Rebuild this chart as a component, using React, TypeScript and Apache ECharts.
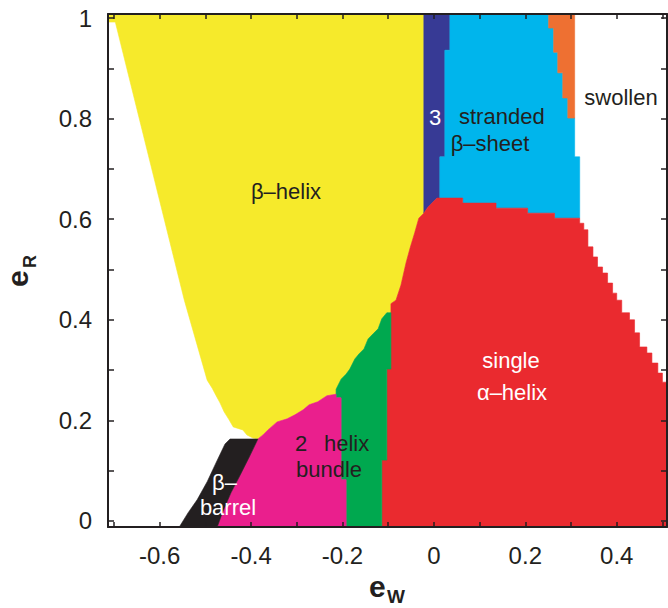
import React, { useEffect, useRef } from 'react';
import * as echarts from 'echarts';

// ---- axis ranges & ticks ----
const X_MIN = -0.713;
const X_MAX = 0.51;
const Y_MIN = -0.012;
const Y_MAX = 1.008;
const xTickValues = [-0.7, -0.6, -0.5, -0.4, -0.3, -0.2, -0.1, 0, 0.1, 0.2, 0.3, 0.4, 0.5];
const xLabelValues = [-0.6, -0.4, -0.2, 0, 0.2, 0.4];
const yTickValues = [0, 0.1, 0.2, 0.3, 0.4, 0.5, 0.6, 0.7, 0.8, 0.9, 1];
const yLabelValues = [0, 0.2, 0.4, 0.6, 0.8, 1];

// ---- phase regions (e_W, e_R) boundary vertices ----
const betaHelix: number[][] = [
  [-0.713, 1.008], [-0.022, 1.008], [-0.022, 0.612], [-0.033, 0.602], [-0.042, 0.573],
  [-0.052, 0.543], [-0.061, 0.513], [-0.072, 0.469], [-0.083, 0.439], [-0.094, 0.432],
  [-0.094, 0.414], [-0.103, 0.414], [-0.114, 0.402], [-0.122, 0.382], [-0.133, 0.372],
  [-0.144, 0.362], [-0.153, 0.342], [-0.164, 0.332], [-0.173, 0.322], [-0.184, 0.302],
  [-0.192, 0.292], [-0.203, 0.282], [-0.214, 0.262], [-0.214, 0.252], [-0.234, 0.249],
  [-0.254, 0.237], [-0.273, 0.231], [-0.286, 0.221], [-0.304, 0.211], [-0.321, 0.203],
  [-0.343, 0.197], [-0.363, 0.181], [-0.374, 0.171], [-0.385, 0.163], [-0.396, 0.165],
  [-0.409, 0.171], [-0.418, 0.181], [-0.439, 0.187], [-0.448, 0.201], [-0.459, 0.217],
  [-0.468, 0.235], [-0.477, 0.250], [-0.485, 0.264], [-0.496, 0.280], [-0.546, 0.439],
  [-0.697, 0.992], [-0.713, 0.992],
];
const threeStrandedDark: number[][] = [
  [-0.022, 1.008], [0.035, 1.008], [0.035, 0.936], [0.024, 0.936], [0.024, 0.724],
  [0.013, 0.724], [0.013, 0.642], [0.007, 0.642], [-0.002, 0.634], [-0.013, 0.624],
  [-0.022, 0.612],
];
const threeStrandedSheet: number[][] = [
  [0.035, 1.008], [0.251, 1.008], [0.251, 0.980], [0.262, 0.980], [0.262, 0.932],
  [0.271, 0.932], [0.271, 0.891], [0.282, 0.891], [0.282, 0.841], [0.293, 0.841],
  [0.293, 0.801], [0.308, 0.801], [0.308, 0.724], [0.319, 0.724], [0.319, 0.602],
  [0.264, 0.602], [0.264, 0.612], [0.205, 0.612], [0.205, 0.622], [0.136, 0.622],
  [0.136, 0.632], [0.063, 0.632], [0.063, 0.642], [0.013, 0.642], [0.013, 0.724],
  [0.024, 0.724], [0.024, 0.936], [0.035, 0.936],
];
const orangeSliver: number[][] = [
  [0.251, 1.008], [0.308, 1.008], [0.308, 0.801], [0.293, 0.801], [0.293, 0.841],
  [0.282, 0.841], [0.282, 0.891], [0.271, 0.891], [0.271, 0.932], [0.262, 0.932],
  [0.262, 0.980], [0.251, 0.980],
];
const singleAlphaHelix: number[][] = [
  [-0.022, 0.612], [-0.013, 0.624], [-0.002, 0.634], [0.007, 0.642], [0.063, 0.642],
  [0.063, 0.632], [0.136, 0.632], [0.136, 0.622], [0.205, 0.622], [0.205, 0.612],
  [0.264, 0.612], [0.264, 0.602], [0.319, 0.602], [0.319, 0.592], [0.328, 0.592],
  [0.328, 0.579], [0.337, 0.579], [0.337, 0.545], [0.348, 0.545], [0.348, 0.525],
  [0.358, 0.525], [0.358, 0.505], [0.369, 0.505], [0.369, 0.493], [0.380, 0.493],
  [0.380, 0.473], [0.391, 0.473], [0.391, 0.453], [0.400, 0.453], [0.400, 0.439],
  [0.411, 0.439], [0.411, 0.414], [0.428, 0.414], [0.428, 0.400], [0.439, 0.400],
  [0.439, 0.374], [0.450, 0.374], [0.450, 0.346], [0.466, 0.346], [0.466, 0.334],
  [0.477, 0.334], [0.477, 0.314], [0.490, 0.314], [0.490, 0.294], [0.500, 0.294],
  [0.500, 0.276], [0.510, 0.276],
  [0.510, -0.012], [-0.114, -0.012], [-0.114, 0.121], [-0.103, 0.121], [-0.103, 0.302],
  [-0.094, 0.302], [-0.094, 0.432], [-0.083, 0.439], [-0.072, 0.469], [-0.061, 0.513],
  [-0.052, 0.543], [-0.042, 0.573], [-0.033, 0.602],
];
const greenRegion: number[][] = [
  [-0.094, 0.414], [-0.094, 0.302], [-0.103, 0.302], [-0.103, 0.121], [-0.114, 0.121],
  [-0.114, -0.012], [-0.192, -0.012], [-0.192, 0.082], [-0.203, 0.082], [-0.203, 0.245],
  [-0.214, 0.245], [-0.214, 0.262], [-0.203, 0.282], [-0.192, 0.292], [-0.184, 0.302],
  [-0.173, 0.322], [-0.164, 0.332], [-0.153, 0.342], [-0.144, 0.362], [-0.133, 0.372],
  [-0.122, 0.382], [-0.114, 0.402], [-0.103, 0.414],
];
const twoHelixBundle: number[][] = [
  [-0.385, 0.163], [-0.374, 0.171], [-0.363, 0.181], [-0.343, 0.197], [-0.321, 0.203],
  [-0.304, 0.211], [-0.286, 0.221], [-0.273, 0.231], [-0.254, 0.237], [-0.234, 0.249],
  [-0.214, 0.252], [-0.214, 0.245], [-0.203, 0.245], [-0.203, 0.082], [-0.192, 0.082],
  [-0.192, -0.012], [-0.474, -0.012], [-0.463, 0.016], [-0.444, 0.056], [-0.424, 0.091],
  [-0.404, 0.127],
];
const betaBarrel: number[][] = [
  [-0.557, -0.012], [-0.538, 0.016], [-0.518, 0.042], [-0.496, 0.078], [-0.477, 0.115],
  [-0.457, 0.153], [-0.446, 0.163], [-0.385, 0.163], [-0.404, 0.127], [-0.424, 0.091],
  [-0.444, 0.056], [-0.463, 0.016], [-0.474, -0.012],
];

const regionPolygons = [betaHelix, threeStrandedDark, threeStrandedSheet, orangeSliver,
  singleAlphaHelix, greenRegion, twoHelixBundle, betaBarrel];
const regionColors = ['#f6ea2b', '#373a95', '#00b5ec', '#ee7032', '#ea2a2f', '#00a84f', '#ea1f8d', '#231f20'];

const FONT = 'Liberation Sans';
const DARK = '#231f20';

// region labels: text, pixel x, pixel y, colour, align
const regionLabels: [string, number, number, string, string][] = [
  ['β–helix', 286, 191, DARK, 'center'],
  ['3', 429, 117, '#ffffff', 'left'],
  ['stranded', 459, 116, DARK, 'left'],
  ['β–sheet', 490, 143, DARK, 'center'],
  ['swollen', 621, 97, DARK, 'center'],
  ['single', 511, 360, '#ffffff', 'center'],
  ['α–helix', 512, 392, '#ffffff', 'center'],
  ['2', 295, 443, DARK, 'left'],
  ['helix', 324, 443, DARK, 'left'],
  ['bundle', 329, 469, DARK, 'center'],
  ['β–', 212, 482, '#ffffff', 'left'],
  ['barrel', 228, 507, '#ffffff', 'center'],
];

const fmt = (v: number) => (Math.abs(v) < 1e-9 ? '0' : Math.abs(v - 1) < 1e-9 ? '1' : v.toFixed(1));

export default function App() {
  const ref = useRef<HTMLDivElement>(null);
  useEffect(() => {
    if (!ref.current) return;
    const chart = echarts.init(ref.current, undefined, { renderer: 'svg' });
    const axisLine = { show: true, onZero: false, lineStyle: { color: DARK, width: 2 } };
    const option: any = {
      animation: false,
      backgroundColor: '#ffffff',
      grid: { left: 108, top: 14, right: 1, bottom: 81, containLabel: false },
      xAxis: [
        {
          type: 'value', min: X_MIN, max: X_MAX, position: 'bottom', z: 10,
          axisLine,
          axisTick: { show: true, inside: true, length: 5, customValues: xTickValues, lineStyle: { color: DARK, width: 1.5 } },
          axisLabel: { show: true, customValues: xLabelValues, formatter: fmt, fontSize: 24, fontFamily: FONT, color: DARK, margin: 16 },
          splitLine: { show: false },
        },
        {
          type: 'value', min: X_MIN, max: X_MAX, position: 'top', z: 10,
          axisLine,
          axisTick: { show: true, inside: true, length: 5, customValues: xTickValues, lineStyle: { color: DARK, width: 1.5 } },
          axisLabel: { show: false },
          splitLine: { show: false },
        },
      ],
      yAxis: [
        {
          type: 'value', min: Y_MIN, max: Y_MAX, position: 'left', z: 10,
          axisLine,
          axisTick: { show: true, inside: true, length: 6, customValues: yTickValues, lineStyle: { color: DARK, width: 1.5 } },
          axisLabel: { show: true, customValues: yLabelValues, formatter: fmt, fontSize: 24, fontFamily: FONT, color: DARK, margin: 16 },
          splitLine: { show: false },
        },
        {
          type: 'value', min: Y_MIN, max: Y_MAX, position: 'right', z: 10,
          axisLine,
          axisTick: { show: true, inside: true, length: 6, customValues: yTickValues, lineStyle: { color: DARK, width: 1.5 } },
          axisLabel: { show: false },
          splitLine: { show: false },
        },
      ],
      series: [
        {
          type: 'custom',
          coordinateSystem: 'cartesian2d',
          xAxisIndex: 0,
          yAxisIndex: 0,
          z: 2,
          silent: true,
          encode: { x: 0, y: 1 },
          data: regionPolygons.map((_, i) => [0, 0.5, i]),
          renderItem: (_params: any, api: any) => {
            const idx = api.value(2);
            const pts = regionPolygons[idx].map((p) => api.coord(p));
            const color = regionColors[idx];
            return {
              type: 'polygon',
              shape: { points: pts },
              style: { fill: color, stroke: color, lineWidth: 0.6 },
            };
          },
        },
      ],
      graphic: [
        ...regionLabels.map(([text, x, y, color, align]) => ({
          type: 'text', x, y, z: 20,
          style: { text, fill: color, fontSize: 22, fontFamily: FONT, align, verticalAlign: 'middle' },
        })),
        {
          type: 'text', x: 369, y: 586, z: 20,
          style: { text: 'e', fill: DARK, fontSize: 30, fontWeight: 'bold', fontFamily: FONT, align: 'left', verticalAlign: 'middle' },
        },
        {
          type: 'text', x: 387, y: 596, z: 20,
          style: { text: 'W', fill: DARK, fontSize: 19, fontWeight: 'bold', fontFamily: FONT, align: 'left', verticalAlign: 'middle' },
        },
        {
          type: 'group', x: 28, y: 271, rotation: Math.PI / 2, z: 20,
          children: [
            {
              type: 'text', x: -16, y: -10.5,
              style: { text: 'e', fill: DARK, fontSize: 30, fontWeight: 'bold', fontFamily: FONT, align: 'left', verticalAlign: 'middle' },
            },
            {
              type: 'text', x: 3, y: 1.7,
              style: { text: 'R', fill: DARK, fontSize: 18, fontWeight: 'bold', fontFamily: FONT, align: 'left', verticalAlign: 'middle' },
            },
          ],
        },
      ],
    };
    chart.setOption(option);
    return () => chart.dispose();
  }, []);
  return (
    <div
      ref={ref}
      style={{ position: 'fixed', left: 0, top: 0, width: 668, height: 608, background: '#fff' }}
    />
  );
}
